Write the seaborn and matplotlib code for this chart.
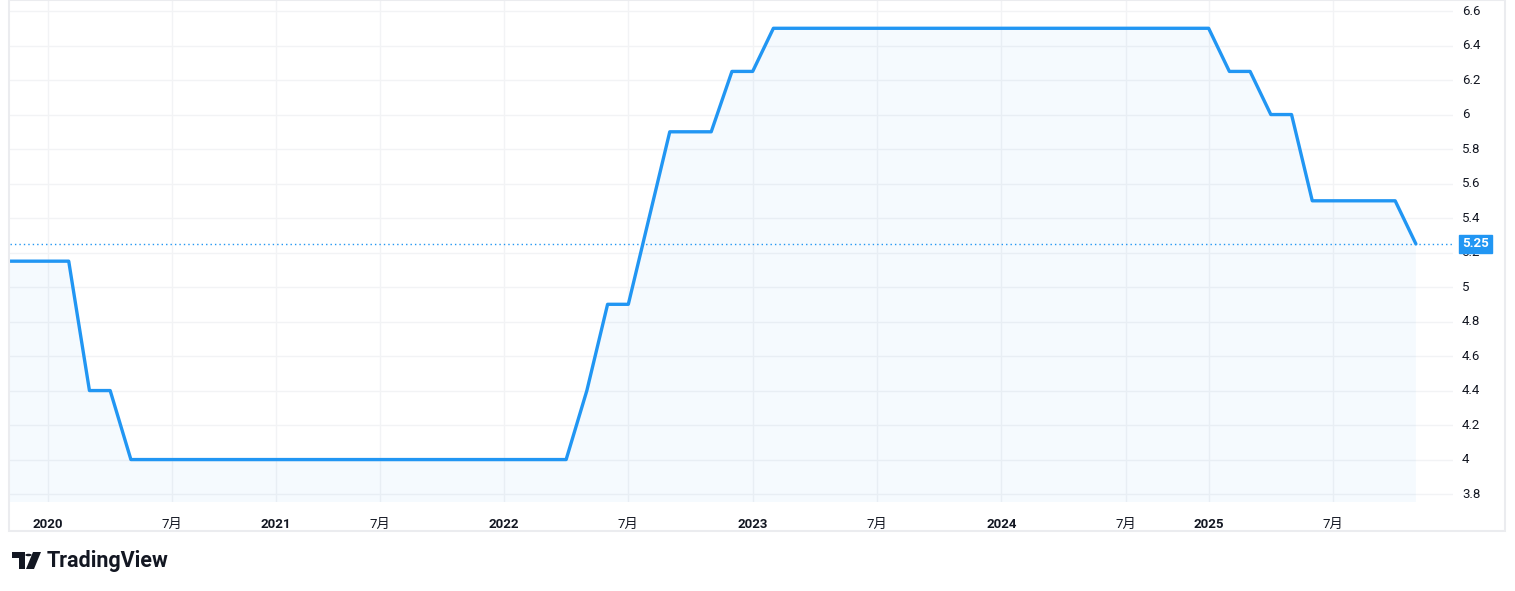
import numpy as np
import pandas as pd
import matplotlib
matplotlib.use("Agg")
import matplotlib.pyplot as plt
from matplotlib.patches import Rectangle, Polygon, Circle
import seaborn as sns

# ---- data (bar index -> value; TradingView index-based time axis) ----
bar_index = list(range(-2, 67))
rate_values = ([5.15] * 4 + [4.4] * 2 + [4.0] * 22 + [4.4, 4.9, 4.9, 5.4, 5.9, 5.9, 5.9, 6.25, 6.25]
               + [6.5] * 22 + [6.25, 6.25, 6.0, 6.0] + [5.5] * 5 + [5.25])
tick_positions = [0, 6, 11, 16, 22, 28, 34, 40, 46, 52, 56, 62]
tick_labels = ["2020", "7月", "2021", "7月", "2022", "7月", "2023", "7月", "2024", "7月", "2025", "7月"]
y_ticks = [3.8, 4.0, 4.2, 4.4, 4.6, 4.8, 5.0, 5.2, 5.4, 5.6, 5.8, 6.0, 6.2, 6.4, 6.6]
y_tick_labels = ["3.8", "4", "4.2", "4.4", "4.6", "4.8", "5", "5.2", "5.4", "5.6", "5.8", "6", "6.2", "6.4", "6.6"]
last_label = "5.25"

df = pd.DataFrame({"idx": bar_index, "value": rate_values})

sns.set_style("white")
plt.rcParams['font.family'] = ['Roboto', 'Noto Sans CJK SC', 'DejaVu Sans']

W, H = 1515, 591
fig = plt.figure(figsize=(W / 100, H / 100), dpi=100)

def fx(px):
    return px / W

def fy(py):
    return 1 - py / H

L, R, T, B = 10, 1453, 0, 502
ax = fig.add_axes([fx(L), fy(B), fx(R) - fx(L), fy(T) - fy(B)])

LINE = "#2196F3"
GRID = "#F2F3F5"

ax.fill_between(df["idx"], df["value"], 3.0, color="#2196F3", alpha=0.045, lw=0, zorder=1)
sns.lineplot(data=df, x="idx", y="value", ax=ax, color=LINE, lw=2.4, zorder=3)

last = rate_values[-1]
ax.axhline(last, color="#2196F3", lw=1.0, ls=(0, (1, 2.2)), zorder=2)

ax.set_xlim(-1.833, 67.79)
ax.set_ylim(3.754, 6.664)

ax.set_xticks(tick_positions)
ax.set_xticklabels([])
ax.set_yticks(y_ticks)
ax.set_yticklabels([])
ax.grid(True, color=GRID, lw=1, zorder=0)
ax.tick_params(length=0)
for s in ax.spines.values():
    s.set_visible(False)
ax.set_xlabel("")
ax.set_ylabel("")

# x tick labels
for pos, lab in zip(tick_positions, tick_labels):
    bold = not lab.endswith("月")
    ax.text(pos, -0.045, lab, transform=ax.get_xaxis_transform(), ha="center", va="center",
            fontsize=9.5, color="#131722", fontweight="bold" if bold else "normal")

# y tick labels on right
for v, lab in zip(y_ticks, y_tick_labels):
    ax.annotate(lab, xy=(1.0, v), xycoords=ax.get_yaxis_transform(), xytext=(9, 0),
                textcoords="offset pixels", ha="left", va="center",
                fontsize=9.5, color="#131722", annotation_clip=False)

# last value label
ax.annotate(last_label, xy=(1.0, last), xycoords=ax.get_yaxis_transform(), xytext=(9, 0),
            textcoords="offset pixels", ha="left", va="center",
            fontsize=9.5, color="white", fontweight="bold",
            bbox=dict(boxstyle="square,pad=0.22", fc=LINE, ec=LINE), zorder=5, annotation_clip=False)

# outer frame
fig.patches.append(Rectangle((fx(9), fy(531)), fx(1505) - fx(9), fy(0) - fy(531),
                             transform=fig.transFigure, fill=False, ec="#EBECEF", lw=1.5))

# TradingView logo (approximate)
logo = "#131722"
fig.patches.append(Polygon([(fx(12), fy(552)), (fx(25), fy(552)), (fx(25), fy(569)), (fx(19), fy(569)),
                            (fx(19), fy(558)), (fx(12), fy(558))], closed=True,
                           transform=fig.transFigure, fc=logo, ec="none"))
fig.patches.append(Circle((fx(28.5), fy(555)), 3.2 / W, transform=fig.transFigure, fc=logo, ec="none"))
fig.patches.append(Polygon([(fx(33), fy(552)), (fx(41), fy(552)), (fx(34), fy(569)), (fx(26), fy(569))],
                           closed=True, transform=fig.transFigure, fc=logo, ec="none"))
fig.text(fx(47), fy(561), "TradingView", fontsize=15.5, fontweight="bold", color=logo, va="center", ha="left")

fig.savefig("out.png", dpi=100)
